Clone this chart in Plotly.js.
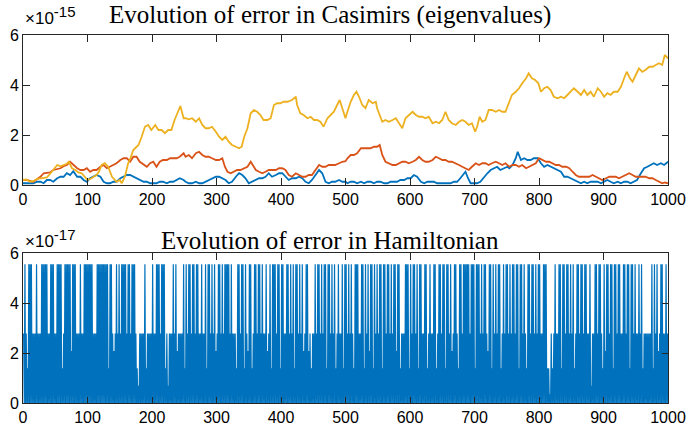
<!DOCTYPE html>
<html><head><meta charset="utf-8">
<script src="https://cdn.plot.ly/plotly-3.0.1.min.js"></script>
<style>html,body{margin:0;padding:0;background:#fff}#chart{width:688px;height:433px}</style>
</head><body><div id="chart"></div>
<script>
// ---- Top panel: error in Casimirs (units of 1e-15) ----
const blueX = [0,6,16,22,27,32,37,42,47,53,58,63,68,73,78,84,89,94,99,104,109,114,120,125,130,135,140,145,151,156,161,166,171,176,181,187,192,197,202,207,212,217,223,228,233,238,243,249,252,257,262,268,273,278,283,288,293,299,304,309,314,319,324,330,335,340,345,350,355,361,366,371,376,381,386,392,397,402,407,412,417,423,428,433,438,443,448,453,459,464,469,474,479,484,490,495,500,503,508,513,518,524,529,534,539,544,549,554,560,565,570,575,580,585,591,596,601,606,611,617,622,627,632,637,642,647,653,658,663,668,673,678,684,686,690,694,699,704,709,715,720,725,730,735,740,745,751,754,759,764,767,772,777,782,787,792,798,803,808,813,818,823,829,834,839,844,849,854,860,865,870,875,880,885,891,896,901,906,911,916,922,927,932,937,942,947,952,958,963,968,973,978,983,989,994,1000];
const blueY = [0.07,0.07,0.07,0.13,0.13,0.07,0.2,0.2,0.13,0.27,0.33,0.33,0.47,0.4,0.55,0.33,0.33,0.2,0.13,0.27,0.33,0.4,0.33,0.13,0.07,0.07,0.13,0.13,0.27,0.33,0.4,0.4,0.33,0.27,0.2,0.13,0.13,0.07,0.07,0.07,0.13,0.13,0.07,0.13,0.13,0.2,0.27,0.2,0.13,0.07,0.07,0.13,0.07,0.07,0.13,0.2,0.27,0.33,0.33,0.27,0.2,0.07,0.13,0.33,0.47,0.4,0.27,0.07,0.13,0.2,0.27,0.27,0.33,0.47,0.33,0.4,0.47,0.47,0.33,0.2,0.27,0.27,0.33,0.27,0.13,0.07,0.2,0.4,0.6,0.47,0.13,0.07,0.13,0.13,0.2,0.13,0.13,0.07,0.13,0.13,0.07,0.13,0.07,0.13,0.13,0.07,0.13,0.13,0.07,0.07,0.13,0.13,0.13,0.2,0.2,0.27,0.27,0.4,0.33,0.13,0.07,0.13,0.13,0.13,0.07,0.07,0.07,0.07,0.07,0.13,0.13,0.27,0.47,0.53,0.27,0.07,0.07,0.07,0.13,0.33,0.47,0.6,0.67,0.73,0.6,0.67,0.73,0.67,0.8,1.07,1.33,1.0,1.07,1.0,1.0,1.07,1.07,0.87,0.73,0.8,0.73,0.67,0.6,0.53,0.33,0.33,0.27,0.2,0.13,0.07,0.13,0.07,0.13,0.13,0.13,0.07,0.13,0.2,0.13,0.07,0.13,0.07,0.13,0.13,0.07,0.13,0.2,0.47,0.67,0.73,0.8,0.87,0.8,0.87,0.8,0.93];

const orangeX = [0,6,16,22,27,32,37,42,47,53,58,63,68,73,78,84,89,94,99,104,109,114,120,125,130,135,140,145,151,156,161,166,171,176,181,187,192,197,202,207,212,217,223,228,233,238,243,249,252,257,262,268,273,278,283,288,293,299,304,309,313,317,322,327,332,337,343,348,353,356,361,366,371,376,381,386,392,397,402,407,412,417,423,428,433,438,443,448,453,459,464,469,474,479,484,490,495,500,503,508,513,518,524,529,534,539,544,549,553,557,562,567,573,578,583,588,593,598,604,609,614,619,624,629,635,640,645,650,655,660,665,671,676,681,686,691,696,702,707,712,717,722,727,733,738,743,748,754,759,764,769,774,780,785,790,795,800,805,811,816,821,826,831,836,842,847,852,857,862,867,873,878,883,888,893,898,904,909,914,919,924,929,934,940,945,950,955,960,965,971,976,981,986,991,995,1000];
const orangeY = [0.2,0.2,0.13,0.25,0.33,0.47,0.47,0.5,0.6,0.63,0.67,0.75,0.8,0.93,0.8,0.67,0.6,0.6,0.67,0.53,0.6,0.6,0.73,0.8,0.67,0.73,0.8,0.87,1.0,1.07,1.07,0.93,1.13,1.13,0.93,0.8,0.73,0.87,0.93,0.73,0.93,1.0,1.0,1.07,1.07,1.07,1.13,1.27,1.13,1.2,1.07,1.27,1.33,1.2,1.13,1.13,1.07,1.0,1.0,1.07,0.73,0.53,0.47,0.53,0.6,0.6,0.67,0.73,0.93,0.8,0.6,0.53,0.47,0.53,0.6,0.6,0.6,0.67,0.67,0.6,0.4,0.33,0.47,0.4,0.33,0.33,0.4,0.4,0.6,0.8,0.73,0.73,0.8,0.8,0.8,0.87,0.93,0.95,1.07,1.2,1.2,1.27,1.47,1.47,1.47,1.47,1.53,1.53,1.6,1.2,0.93,0.87,0.8,0.8,0.87,0.93,0.93,0.87,0.93,1.0,1.13,1.0,0.93,0.93,1.0,1.13,1.07,1.0,1.0,0.93,0.93,0.87,0.8,0.73,0.67,0.6,0.73,0.87,0.8,0.87,0.87,0.8,0.87,0.93,0.87,0.8,0.87,0.73,0.8,0.8,0.73,0.8,0.67,0.73,0.8,0.87,1.07,1.0,0.93,0.93,0.87,0.8,0.8,0.73,0.73,0.67,0.53,0.4,0.33,0.33,0.33,0.33,0.4,0.33,0.27,0.2,0.27,0.33,0.33,0.33,0.27,0.33,0.4,0.47,0.4,0.33,0.33,0.33,0.33,0.27,0.27,0.2,0.13,0.07,0.1,0.07];

const yellowX = [0,5,11,16,22,27,33,37,42,47,53,58,63,68,71,76,81,86,91,96,100,105,110,114,118,122,127,132,138,145,150,153,158,163,167,171,175,179,184,189,194,199,205,210,215,220,225,230,235,241,244,249,252,257,262,268,273,278,283,288,293,299,304,309,314,319,324,330,335,339,343,348,353,358,363,368,373,379,384,389,394,399,404,410,417,423,425,430,435,441,446,451,456,461,466,472,477,482,487,491,495,500,503,508,513,517,521,526,531,536,542,547,549,554,557,562,567,573,578,583,588,593,598,604,609,614,619,624,629,635,640,645,650,655,660,665,671,676,681,686,691,696,701,704,708,712,717,722,727,733,738,743,748,753,758,764,769,774,780,784,789,794,799,803,808,813,818,823,829,834,839,844,849,854,860,865,870,875,880,885,891,896,901,906,911,916,922,927,932,936,941,945,950,955,960,965,971,976,981,986,991,995,1000];
const yellowY = [0.2,0.22,0.13,0.15,0.25,0.27,0.3,0.3,0.45,0.6,0.8,0.75,0.8,0.85,0.93,0.67,0.6,0.5,0.47,0.3,0.2,0.25,0.35,0.4,0.55,0.8,0.87,0.73,0.33,0.13,0.2,0.07,0.33,0.87,1.1,1.4,1.5,1.6,1.93,2.33,2.4,2.2,2.4,2.2,2.2,2.07,2.2,2.2,2.6,3.0,3.16,2.67,2.67,2.63,2.67,2.53,2.67,2.4,2.27,2.27,2.33,2.13,1.93,1.8,1.93,1.73,1.6,1.53,1.47,1.53,1.93,2.27,2.87,3.0,2.93,2.8,2.6,2.6,2.67,3.2,3.27,3.27,3.33,3.33,3.4,3.53,3.2,2.87,2.8,2.67,2.73,2.6,2.6,2.53,2.33,2.67,2.8,2.93,3.2,3.4,3.07,2.67,2.93,3.33,3.6,3.73,3.53,3.2,3.07,3.4,3.27,3.33,3.07,2.73,2.53,2.6,2.53,2.6,2.67,2.47,2.27,2.67,2.8,2.93,2.8,2.73,2.73,2.67,2.73,2.47,2.53,2.47,2.6,2.93,2.6,2.47,2.4,2.53,2.6,2.53,2.4,2.47,2.13,2.33,2.73,2.53,2.6,3.0,3.0,2.93,3.0,2.93,2.93,3.27,3.6,3.73,3.87,4.07,4.27,4.47,4.27,4.2,4.07,3.73,3.87,3.93,3.8,3.53,3.47,3.53,3.47,3.6,3.73,3.87,3.73,3.6,3.8,3.6,3.73,3.53,3.87,3.73,3.53,3.67,3.6,3.73,3.73,3.93,4.27,4.53,4.27,4.13,4.4,4.67,4.53,4.6,4.73,4.73,4.8,4.87,4.8,5.2,5.07];

// ---- Bottom panel: error in Hamiltonian (units of 1e-17) ----
// level table and one code per time step
const hamLevels = [0, 1.39, 2.78, 5.55, 2.08, 0.69, 0.35];
const hamCodeRows = [
 "2030201030 3030202020 3020202030 3030303020 2030303020",
 "2030303030 1020303030 3030403030 3020202030 2020303030",
 "3030303020 2020303030 3030303030 3010303020 4020302030",
 "2030303030 2030302030 3030201050 2020202030 1020202020",
 "3020203030 3020303030 1020502020 2030203040 2020202030",
 "1030203030 2030302030 3020203020 2030103030 2030203040",
 "2030302030 2030303030 2030202020 1030302030 3010302040",
 "3030102030 3020303020 3020203040 2030103030 3020303010",
 "3030202030 3020302030 1030302030 2030402030 3040201020",
 "2030203030 2030203030 1030302030 2030102030 2020301030",
 "3020302030 2010303030 2020303010 3020304030 3010302030",
 "2030301030 3020303020 3020303040 3030102020 2030303010",
 "3020303020 3010303020 2030301020 3020203030 1020303020",
 "3030103030 2030402030 3020103030 2030303030 3020303030",
 "1030303020 3020303020 4030301030 2030203030 1020302030",
 "3020302030 3020303010 3030203020 1030302030 3020302030",
 "3020203030 3010106020 1020302020 3030103030 2030302030",
 "2030102030 3020303020 3030202030 5020203030 2030302010",
 "3040303020 3030103030 2030302020 3030203030 1030302030",
 "2020302030 1020202020 2020301030 2030402030 3020203020"
];

const xTicks = [0,100,200,300,400,500,600,700,800,900,1000];
const yTicks = [0,2,4,6];

const hamCodes = hamCodeRows.join('').replace(/\s/g,'');
const hamY = Array.from(hamCodes, c => hamLevels[+c]);
const hamX = hamY.map((_, i) => i + 1);

const AX = '#262626';
const axisBase = {
  showgrid:false, zeroline:false, ticks:'inside', ticklen:6.5, tickwidth:1, tickcolor:AX,
  showline:true, linecolor:AX, linewidth:1, mirror:'ticks',
  tickfont:{family:'"Liberation Sans", Arial, sans-serif', size:16, color:'#000'}
};

const traces = [
  {x:blueX, y:blueY, type:'scatter', mode:'lines', line:{color:'#0072BD', width:1.8}, xaxis:'x', yaxis:'y'},
  {x:orangeX, y:orangeY, type:'scatter', mode:'lines', line:{color:'#D95319', width:1.8}, xaxis:'x', yaxis:'y'},
  {x:yellowX, y:yellowY, type:'scatter', mode:'lines', line:{color:'#EDB120', width:1.8}, xaxis:'x', yaxis:'y'},
  {x:hamX, y:hamY, type:'scatter', mode:'lines', line:{color:'#0072BD', width:1.2}, xaxis:'x2', yaxis:'y2'}
];

const plotL = 23, plotR = 668;
const titleX = (330 - plotL) / (plotR - plotL);
const titleFont = {family:'"Liberation Serif", "Times New Roman", serif', size:25, color:'#000'};
const expFont = {family:'"Liberation Sans", Arial, sans-serif', size:17, color:'#000'};

const layout = {
  width:688, height:433,
  margin:{l:23, r:20, t:35, b:30, pad:0},
  paper_bgcolor:'#fff', plot_bgcolor:'#fff', showlegend:false,
  xaxis:Object.assign({}, axisBase, {domain:[0,1], anchor:'y', range:[0,1000], tickvals:xTicks}),
  yaxis:Object.assign({}, axisBase, {domain:[0.5924,1], anchor:'x', range:[0,6], tickvals:yTicks}),
  xaxis2:Object.assign({}, axisBase, {domain:[0,1], anchor:'y2', range:[0,1000], tickvals:xTicks}),
  yaxis2:Object.assign({}, axisBase, {domain:[0,0.4076], anchor:'x2', range:[0,6], tickvals:yTicks}),
  annotations:[
    {text:'Evolution of error in Casimirs (eigenvalues)', xref:'paper', yref:'paper', x:titleX, y:1, xanchor:'center', yanchor:'bottom', yshift:3.5, showarrow:false, font:titleFont},
    {text:'Evolution of error in Hamiltonian', xref:'paper', yref:'paper', x:titleX, y:0.4076, xanchor:'center', yanchor:'bottom', yshift:-2.5, showarrow:false, font:titleFont},
    {text:'×10<sup><span style="font-size:15px">-15</span></sup>', xref:'paper', yref:'paper', x:0, y:1, xanchor:'left', yanchor:'bottom', xshift:0, yshift:5, showarrow:false, font:expFont},
    {text:'×10<sup><span style="font-size:15px">-17</span></sup>', xref:'paper', yref:'paper', x:0, y:0.4076, xanchor:'left', yanchor:'bottom', xshift:0, yshift:0, showarrow:false, font:expFont}
  ]
};

Plotly.newPlot('chart', traces, layout, {staticPlot:true, displayModeBar:false});
</script>
</body></html>
